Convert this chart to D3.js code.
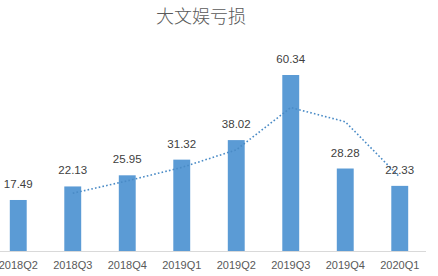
<!DOCTYPE html>
<html>
<head>
<meta charset="utf-8">
<script src="https://cdn.jsdelivr.net/npm/d3@7"></script>
<style>
  body { margin: 0; background: #fff; }
  svg { display: block; }
</style>
</head>
<body>
<div id="chart"></div>
<script>
// Data
var quarters = ['2018Q2', '2018Q3', '2018Q4', '2019Q1', '2019Q2', '2019Q3', '2019Q4', '2020Q1'];
var losses = [17.49, 22.13, 25.95, 31.32, 38.02, 60.34, 28.28, 22.33];
// 2-period moving average trend, starts at 2018Q3
var trendQuarters = ['2018Q3', '2018Q4', '2019Q1', '2019Q2', '2019Q3', '2019Q4', '2020Q1'];
var trendValues = [19.81, 24.04, 28.64, 34.67, 49.18, 44.31, 25.31];

var width = 438;
var height = 276;
var baseY = 251;

var svg = d3.select('#chart')
            .append('svg')
            .attr('width', width)
            .attr('height', height);

// Scales
var xScale = d3.scaleBand()
               .domain(quarters)
               .range([-9, 427])
               .paddingInner(0.69)
               .paddingOuter(0.345);

var yScale = d3.scaleLinear()
               .domain([0, 60.34])
               .range([baseY, 75]);

// Title
svg.append('text')
   .attr('x', 201)
   .attr('y', 23)
   .attr('text-anchor', 'middle')
   .style('font-family', '"Noto Sans CJK SC", sans-serif')
   .style('font-weight', 300)
   .style('font-size', '18px')
   .style('fill', '#595959')
   .text('大文娱亏损');

// Bars
svg.selectAll('.bar')
   .data(losses)
   .enter()
     .append('rect')
     .attr('class', 'bar')
     .attr('x', (d, i) => xScale(quarters[i]))
     .attr('y', d => yScale(d))
     .attr('width', xScale.bandwidth())
     .attr('height', d => baseY - yScale(d))
     .style('fill', '#5B9BD5');

// Axis
var xAxis = d3.axisBottom(xScale).tickSize(0).tickPadding(10);
var gx = svg.append('g')
            .attr('transform', 'translate(0,' + baseY + ')')
            .call(xAxis);
gx.select('.domain')
  .attr('d', 'M0,0.5H426')
  .style('stroke', '#d9d9d9');
gx.selectAll('text')
  .style('font-family', '"Liberation Sans", Arial, sans-serif')
  .style('font-size', '11px')
  .style('fill', '#595959');

// Trend line
var line = d3.line()
             .x((d, i) => xScale(trendQuarters[i]) + xScale.bandwidth() / 2)
             .y(d => yScale(d));

svg.append('path')
   .datum(trendValues)
   .attr('d', line)
   .style('fill', 'none')
   .style('stroke', '#4A8BC6')
   .style('stroke-width', 1.6)
   .style('stroke-dasharray', '1.6,2.2');

// Value labels
svg.selectAll('.label')
   .data(losses)
   .enter()
     .append('text')
     .attr('class', 'label')
     .attr('x', (d, i) => xScale(quarters[i]) + xScale.bandwidth() / 2)
     .attr('y', d => yScale(d) - 12)
     .attr('text-anchor', 'middle')
     .style('font-family', '"Liberation Sans", Arial, sans-serif')
     .style('font-size', '11.5px')
     .style('fill', '#404040')
     .text(d => d);
</script>
</body>
</html>
